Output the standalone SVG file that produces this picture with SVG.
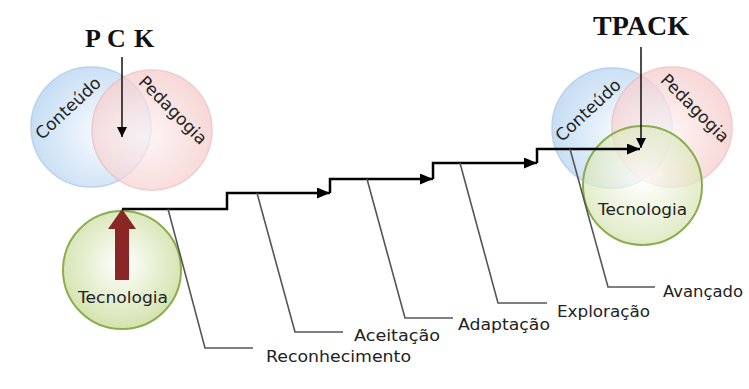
<svg xmlns="http://www.w3.org/2000/svg" width="749" height="389" viewBox="0 0 749 389">
<style>
.lbl{font-family:"DejaVu Sans","Verdana",sans-serif;font-size:16px;fill:#222}
.vl{font-size:17px}
.ttl{font-family:"Liberation Serif","Times New Roman",serif;font-weight:bold;fill:#111}
.lead{fill:none;stroke:#555;stroke-width:1.6}
.stair{fill:none;stroke:#000;stroke-width:2.5}
.thin{fill:none;stroke:#000;stroke-width:1.4}
.blue{fill:url(#gBlue);stroke:#a6c8ea;stroke-width:1.5;opacity:0.8}
.pink{fill:url(#gPink);stroke:#f0baba;stroke-width:1.5;opacity:0.75}
.green{fill:url(#gGreen);stroke:#8aae4e;stroke-width:2}
</style>
<defs>
<radialGradient id="gBlue" cx="0.6" cy="0.55" r="0.6">
<stop offset="0" stop-color="#f7fbff"/><stop offset="1" stop-color="#bad6f2"/>
</radialGradient>
<radialGradient id="gPink" cx="0.45" cy="0.55" r="0.6">
<stop offset="0" stop-color="#fdf3f3"/><stop offset="1" stop-color="#f5c8c8"/>
</radialGradient>
<radialGradient id="gGreen" cx="0.5" cy="0.45" r="0.6">
<stop offset="0" stop-color="#ffffff"/><stop offset="1" stop-color="#cfe0a6"/>
</radialGradient>
<marker id="ah" viewBox="0 0 13 11" refX="13" refY="5.5" markerWidth="13" markerHeight="11" markerUnits="userSpaceOnUse" orient="auto">
<path d="M0,0 L13,5.5 L0,11 z" fill="#000"/>
</marker>
<marker id="ahs" viewBox="0 0 10 10" refX="10" refY="5" markerWidth="10" markerHeight="10" markerUnits="userSpaceOnUse" orient="auto">
<path d="M0,0 L10,5 L0,10 z" fill="#000"/>
</marker>
</defs>

<g id="pck">
<text class="ttl" font-size="26" x="85 107 134" y="47">PCK</text>
<circle class="blue" cx="91" cy="127" r="60"/>
<circle class="pink" cx="152" cy="130" r="60"/>
<text class="lbl vl" text-anchor="middle" transform="translate(68,108) rotate(-43)" y="6">Conteúdo</text>
<text class="lbl vl" text-anchor="middle" transform="translate(173,110) rotate(45)" y="6">Pedagogia</text>
</g>

<g id="tec-left">
<circle class="green" cx="122" cy="270" r="59"/>
<polygon points="122,209 136,229 129,229 129,280 115,280 115,229 108,229" fill="#8b2626"/>
<text class="lbl" x="123" y="303" text-anchor="middle" textLength="90" lengthAdjust="spacingAndGlyphs">Tecnologia</text>
</g>

<g id="tpack">
<text class="ttl" font-size="28" x="641" y="35" text-anchor="middle">TPACK</text>
<circle class="blue" cx="612" cy="128" r="60"/>
<circle class="pink" cx="672" cy="127" r="60"/>
<circle class="green" cx="642.5" cy="185.5" r="59.5" fill-opacity="0.7"/>
<text class="lbl vl" text-anchor="middle" transform="translate(588,110) rotate(-43)" y="6">Conteúdo</text>
<text class="lbl vl" text-anchor="middle" transform="translate(695,108) rotate(45)" y="6">Pedagogia</text>
<text class="lbl" x="642.5" y="215" text-anchor="middle" textLength="89" lengthAdjust="spacingAndGlyphs">Tecnologia</text>
</g>

<g id="connectors">
<line class="thin" x1="122" y1="57" x2="122" y2="137" marker-end="url(#ahs)"/>
<line class="thin" x1="641" y1="47" x2="641" y2="148" marker-end="url(#ahs)"/>
<path class="stair" d="M122,209 H227 V193 H330" marker-end="url(#ah)"/>
<path class="stair" d="M330,193 V179 H433" marker-end="url(#ah)"/>
<path class="stair" d="M433,179 V163 H537" marker-end="url(#ah)"/>
<path class="stair" d="M537,163 V149 H640" marker-end="url(#ah)"/>
<path class="lead" d="M168,209 L205,348 H253"/>
<path class="lead" d="M257,193 L295,332 H343"/>
<path class="lead" d="M367,179 L405,318 H453"/>
<path class="lead" d="M460,163 L498,303 H547"/>
<path class="lead" d="M570,149 L608,287 H655"/>
</g>

<g id="stages">
<text class="lbl" x="266" y="362" textLength="145" lengthAdjust="spacingAndGlyphs">Reconhecimento</text>
<text class="lbl" x="354" y="341" textLength="86" lengthAdjust="spacingAndGlyphs">Aceitação</text>
<text class="lbl" x="458" y="330" textLength="92" lengthAdjust="spacingAndGlyphs">Adaptação</text>
<text class="lbl" x="557" y="317" textLength="93" lengthAdjust="spacingAndGlyphs">Exploração</text>
<text class="lbl" x="663" y="297" textLength="80" lengthAdjust="spacingAndGlyphs">Avançado</text>
</g>
</svg>
